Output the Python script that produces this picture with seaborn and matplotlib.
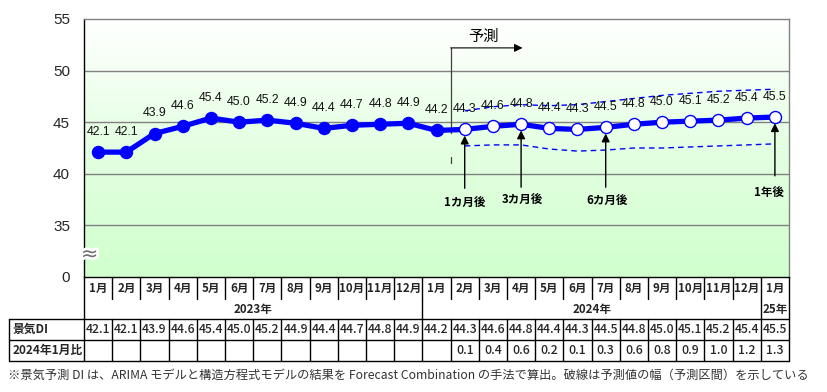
import numpy as np
import pandas as pd
import matplotlib
matplotlib.use("Agg")
import matplotlib.pyplot as plt
import matplotlib.patheffects as pe
from matplotlib.colors import LinearSegmentedColormap
import seaborn as sns

# ---- data ----
months = ["1月", "2月", "3月", "4月", "5月", "6月", "7月", "8月", "9月", "10月", "11月", "12月",
          "1月", "2月", "3月", "4月", "5月", "6月", "7月", "8月", "9月", "10月", "11月", "12月",
          "1月"]
year_labels = ["2023年", "2024年", "25年"]
year_spans = [(0, 11), (12, 23), (24, 24)]
di_values = [42.1, 42.1, 43.9, 44.6, 45.4, 45.0, 45.2, 44.9, 44.4, 44.7, 44.8, 44.9,
             44.2, 44.3, 44.6, 44.8, 44.4, 44.3, 44.5, 44.8, 45.0, 45.1, 45.2, 45.4, 45.5]
n_actual = 13
ratio_values = [None] * 13 + [0.1, 0.4, 0.6, 0.2, 0.1, 0.3, 0.6, 0.8, 0.9, 1.0, 1.2, 1.3]
upper_band = [46.1, 46.5, 46.7, 46.6, 46.7, 47.0, 47.3, 47.6, 47.8, 48.0, 48.1, 48.2]
lower_band = [42.7, 42.8, 42.8, 42.4, 42.2, 42.3, 42.5, 42.5, 42.6, 42.7, 42.8, 42.9]
y_ticks = [30, 35, 40, 45, 50, 55]
y_tick_labels = ["0", "35", "40", "45", "50", "55"]
callout_idx = [13, 15, 18, 24]
callout_text = ["1カ月後", "3カ月後", "6カ月後", "1年後"]
row_titles = ["景気DI", "2024年1月比"]
note = ("※景気予測 DI は、ARIMA モデルと構造方程式モデルの結果を Forecast Combination "
        "の手法で算出。破線は予測値の幅（予測区間）を示している")

sns.set_style("white")
plt.rcParams['font.family'] = ['Noto Sans CJK JP', 'DejaVu Sans']

BLUE = "#0000FF"
n = len(di_values)
df = pd.DataFrame({"idx": np.arange(n), "di": di_values})
fc = pd.DataFrame({"idx": np.arange(n_actual, n), "upper": upper_band, "lower": lower_band})

fig = plt.figure(figsize=(8.28, 3.92), dpi=100)
W, H = 828, 392
ax_l, ax_r, ax_t, ax_b = 84, 789, 19, 277
ax = fig.add_axes([ax_l / W, 1 - ax_b / H, (ax_r - ax_l) / W, (ax_b - ax_t) / H])

# gradient background
cmap = LinearSegmentedColormap.from_list("bg", ["#d0ffcd", "#e4ffe2", "#ffffff"])
grad = np.linspace(0, 1, 256).reshape(-1, 1)
ax.imshow(grad, extent=(-0.5, n - 0.5, 30, 55), origin="lower", aspect="auto",
          cmap=cmap, zorder=0)

for yt in y_ticks[1:-1]:
    ax.axhline(yt, color="#808080", lw=1, zorder=1)

# prediction interval
sns.lineplot(data=fc, x="idx", y="upper", color=BLUE, lw=1.0, ax=ax, zorder=3)
sns.lineplot(data=fc, x="idx", y="lower", color=BLUE, lw=1.0, ax=ax, zorder=3)
for line in ax.lines[-2:]:
    line.set_dashes((4, 3))

# main series
sns.lineplot(data=df, x="idx", y="di", color=BLUE, lw=3.8, ax=ax, zorder=4)
sns.scatterplot(data=df.iloc[:n_actual], x="idx", y="di", s=75, color=BLUE,
                edgecolor=BLUE, linewidth=1, ax=ax, zorder=5)
sns.scatterplot(data=df.iloc[n_actual:], x="idx", y="di", s=75, color="white",
                edgecolor=BLUE, linewidth=1, ax=ax, zorder=5)

for i, v in enumerate(di_values):
    ax.text(i, v + 1.95, f"{v:.1f}", ha="center", va="center", fontsize=8.8,
            family=["Liberation Sans"], color="#111111", zorder=6)

# forecast marker
xb = n_actual - 0.5
ax.plot([xb, xb], [52.2, 44.0], color="#404040", lw=0.9, zorder=2)
ax.plot([xb, xb], [41.6, 41.05], color="#404040", lw=0.9, zorder=2)
ax.annotate("", xy=(15.05, 52.2), xytext=(xb, 52.2),
            arrowprops=dict(arrowstyle="-|>", color="black", lw=0.8,
                            mutation_scale=12, shrinkA=0, shrinkB=0), zorder=6)
ax.text(13.65, 53.3, "予測", ha="center", va="center", fontsize=11, color="black")

# callout arrows
tails = [38.6, 38.7, 38.7, 39.8]
texts_y = [37.2, 37.5, 37.4, 38.2]
dx = [0.0, 0.05, 0.05, -0.2]
for k, i in enumerate(callout_idx):
    ax.annotate("", xy=(i, di_values[i] - 0.6), xytext=(i, tails[k]),
                arrowprops=dict(arrowstyle="-|>", color="black", lw=1.0,
                                mutation_scale=12, shrinkA=0, shrinkB=0), zorder=6)
    ax.text(i + dx[k], texts_y[k], callout_text[k], ha="center", va="center",
            fontsize=8.3, fontweight="bold", color="black")

# axis break mark
ax.text(-0.3, 32.2, "≈", ha="center", va="center", fontsize=15, color="#707070",
        family=["DejaVu Sans"], zorder=7, clip_on=False,
        path_effects=[pe.withStroke(linewidth=4, foreground="white")])

ax.set_xlim(-0.5, n - 0.5)
ax.set_ylim(30, 55)
ax.set_yticks(y_ticks)
ax.set_yticklabels(y_tick_labels, fontsize=11, family=["Liberation Sans"])
ax.set_xticks([])
ax.set_xlabel("")
ax.set_ylabel("")
ax.tick_params(axis="y", direction="in", length=4, color="black", pad=10)
for side in ["top", "right"]:
    ax.spines[side].set_color("#808080")
for side in ["left", "bottom"]:
    ax.spines[side].set_color("black")
for sp in ax.spines.values():
    sp.set_linewidth(1)

# ---- table below the chart ----
t_top, t_bot = 277, 361
tab = fig.add_axes([ax_l / W, 1 - t_bot / H, (ax_r - ax_l) / W, (t_bot - t_top) / H])
tab.set_xlim(-0.5, n - 0.5)
tab.set_ylim(t_bot, t_top)
tab.axis("off")
rows = [277, 299, 319, 340, 361]
x_left = -0.5 - (ax_l - 9) / ((ax_r - ax_l) / n)
kw = dict(color="black", lw=1, clip_on=False)

for k in range(n - 1):
    tab.plot([k + 0.5, k + 0.5], [rows[0], rows[1]], **kw)
    tab.plot([k + 0.5, k + 0.5], [rows[2], rows[4]], **kw)
for a, b in year_spans[:-1]:
    tab.plot([b + 0.5, b + 0.5], [rows[1], rows[2]], **kw)
tab.plot([-0.5, -0.5], [rows[0], rows[4]], **kw)
tab.plot([n - 0.5, n - 0.5], [rows[0], rows[4]], **kw)
tab.plot([x_left, x_left], [rows[2], rows[4]], **kw)
for r in rows[2:]:
    tab.plot([x_left, n - 0.5], [r, r], **kw)

for i, m in enumerate(months):
    tab.text(i, (rows[0] + rows[1]) / 2, m, ha="center", va="center",
             fontsize=8.3, fontweight="bold")
for lab, (a, b) in zip(year_labels, year_spans):
    tab.text((a + b) / 2, (rows[1] + rows[2]) / 2, lab, ha="center", va="center",
             fontsize=8.3, fontweight="bold")
for i, v in enumerate(di_values):
    tab.text(i, (rows[2] + rows[3]) / 2, f"{v:.1f}", ha="center", va="center",
             fontsize=8.8, fontweight="medium")
for i, v in enumerate(ratio_values):
    if v is not None:
        tab.text(i, (rows[3] + rows[4]) / 2, f"{v:.1f}", ha="center", va="center",
                 fontsize=8.8, fontweight="medium")
for r, title in enumerate(row_titles):
    tab.text(x_left + 0.12, (rows[2 + r] + rows[3 + r]) / 2, title, ha="left",
             va="center", fontsize=8.5, fontweight="bold")

fig.text(8 / W, 1 - 375 / H, note, ha="left", va="center", fontsize=8.8,
         color="#333333")

fig.savefig("out.png", dpi=100, facecolor="white")
